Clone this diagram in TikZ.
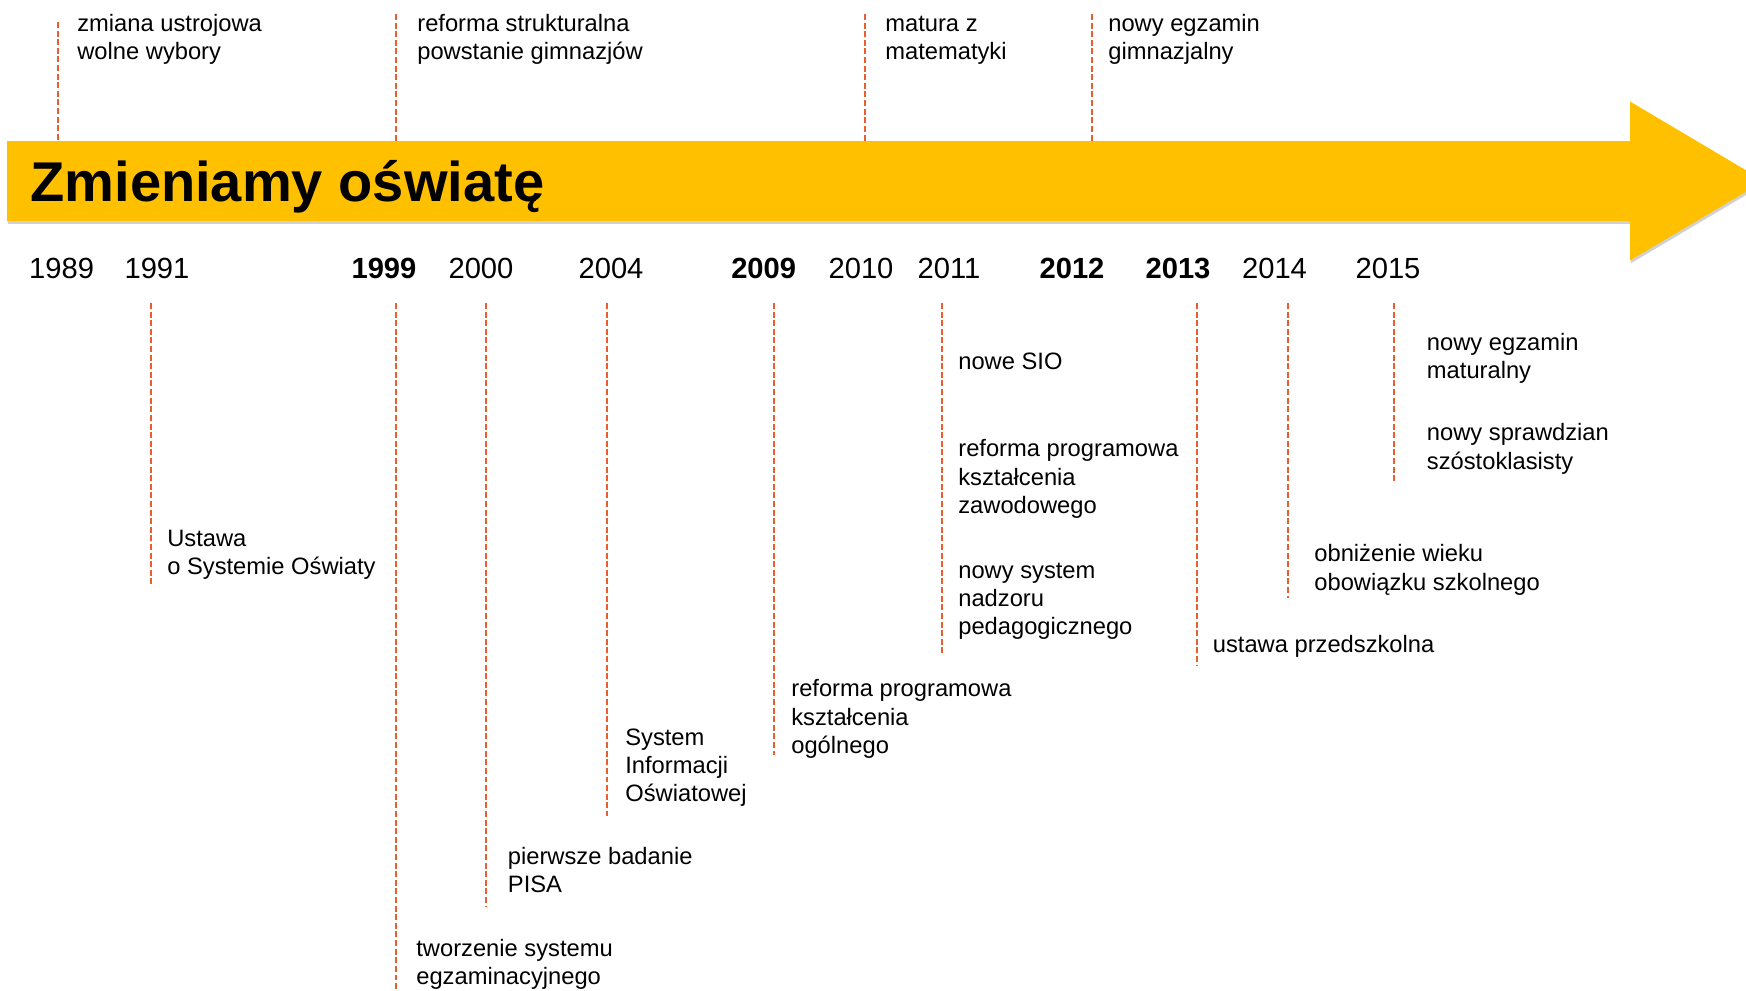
\documentclass[tikz,border=0pt]{standalone}
\usepackage{fontspec}
\setmainfont{Liberation Sans}
\usepackage{xcolor}
\usetikzlibrary{shadows}

\definecolor{barGold}{RGB}{255,192,0}
\definecolor{tickOrange}{RGB}{232,94,44}

\begin{document}
\begin{tikzpicture}[
    x=0.02cm, y=-0.02cm,
    event/.style={anchor=base west, inner sep=0pt, align=left, font=\fontsize{13.5}{16.1}\selectfont},
    year/.style={anchor=base, inner sep=0pt, font=\fontsize{16.6}{20}\selectfont},
    keyyear/.style={year, font=\fontsize{16.6}{20}\selectfont\bfseries},
    tick/.style={tickOrange, line width=1.1pt, dash pattern=on 3.4pt off 1.5pt},
    bar/.style={fill=barGold, drop shadow={shadow xshift=0.5pt, shadow yshift=-1.6pt, opacity=0.3, fill=black!60}},
]
\useasboundingbox (0,0) rectangle (1746,990);
\clip (0,0) rectangle (1746,990);

\fill[bar] (7,141) -- (1630,141) -- (1630,101.5) -- (1764,181) -- (1630,260.5) -- (1630,221) -- (7,221) -- cycle;
\node[anchor=base west, inner sep=0pt, font=\fontsize{31.9}{38}\selectfont\bfseries] (title) at (30,201.7) {Zmieniamy oświatę};

\node[year] (yr_1989) at (61.6,278) {1989};
\node[year] (yr_1991) at (157,278) {1991};
\node[keyyear] (yr_1999) at (384,278) {1999};
\node[year] (yr_2000) at (481,278) {2000};
\node[year] (yr_2004) at (611,278) {2004};
\node[keyyear] (yr_2009) at (763.7,278) {2009};
\node[year] (yr_2010) at (861,278) {2010};
\node[year] (yr_2011) at (949,278) {2011};
\node[keyyear] (yr_2012) at (1072,278) {2012};
\node[keyyear] (yr_2013) at (1178,278) {2013};
\node[year] (yr_2014) at (1274.5,278) {2014};
\node[year] (yr_2015) at (1388,278) {2015};

\node[event] (ev_1989) at (77,59.3) {zmiana ustrojowa\\wolne wybory};
\node[event] (ev_1999_top) at (417,59.3) {reforma strukturalna\\powstanie gimnazjów};
\node[event] (ev_2010) at (885,59.3) {matura z\\matematyki};
\node[event] (ev_2012) at (1108,59.3) {nowy egzamin\\gimnazjalny};

\node[event] (ev_1991) at (167,574.3) {Ustawa\\o Systemie Oświaty};
\node[event] (ev_1999) at (416,984.8) {tworzenie systemu\\egzaminacyjnego};
\node[event] (ev_2000) at (507.6,892.9) {pierwsze badanie\\PISA};
\node[event] (ev_2004) at (625,801.6) {System\\Informacji\\Oświatowej};
\node[event] (ev_2009) at (791,753.3) {reforma programowa\\kształcenia\\ogólnego};
\node[event] (ev_2011_sio) at (958,369) {nowe SIO};
\node[event] (ev_2011_zaw) at (958,513.3) {reforma programowa\\kształcenia\\zawodowego};
\node[event] (ev_2011_nad) at (958,634.9) {nowy system\\nadzoru\\pedagogicznego};
\node[event] (ev_2013) at (1212.5,652.7) {ustawa przedszkolna};
\node[event] (ev_2014) at (1314,590) {obniżenie wieku\\obowiązku szkolnego};
\node[event] (ev_2015_mat) at (1426.6,378.3) {nowy egzamin\\maturalny};
\node[event] (ev_2015_spr) at (1426.6,469) {nowy sprawdzian\\szóstoklasisty};

\coordinate (up_1989) at (58,22);
\coordinate (bar_1989) at (58,141);
\coordinate (up_1999) at (396,14);
\coordinate (bar_1999) at (396,141);
\coordinate (up_2010) at (865,14);
\coordinate (bar_2010) at (865,141);
\coordinate (up_2012) at (1092,14);
\coordinate (bar_2012) at (1092,141);

\coordinate (top_1991) at (151,303);
\coordinate (end_1991) at (151,584);
\coordinate (top_1999) at (396,303);
\coordinate (end_1999) at (396,990);
\coordinate (top_2000) at (486,303);
\coordinate (end_2000) at (486,907);
\coordinate (top_2004) at (607,303);
\coordinate (end_2004) at (607,816);
\coordinate (top_2009) at (774,303);
\coordinate (end_2009) at (774,755);
\coordinate (top_2011) at (942,303);
\coordinate (end_2011) at (942,653);
\coordinate (top_2013) at (1197,303);
\coordinate (end_2013) at (1197,666);
\coordinate (top_2014) at (1288,303);
\coordinate (end_2014) at (1288,598);
\coordinate (top_2015) at (1394,303);
\coordinate (end_2015) at (1394,483);

\draw[tick] (up_1989) -- (bar_1989);
\draw[tick] (up_1999) -- (bar_1999);
\draw[tick] (up_2010) -- (bar_2010);
\draw[tick] (up_2012) -- (bar_2012);

\draw[tick] (top_1991) -- (end_1991);
\draw[tick] (top_1999) -- (end_1999);
\draw[tick] (top_2000) -- (end_2000);
\draw[tick] (top_2004) -- (end_2004);
\draw[tick] (top_2009) -- (end_2009);
\draw[tick] (top_2011) -- (end_2011);
\draw[tick] (top_2013) -- (end_2013);
\draw[tick] (top_2014) -- (end_2014);
\draw[tick] (top_2015) -- (end_2015);
\end{tikzpicture}
\end{document}
